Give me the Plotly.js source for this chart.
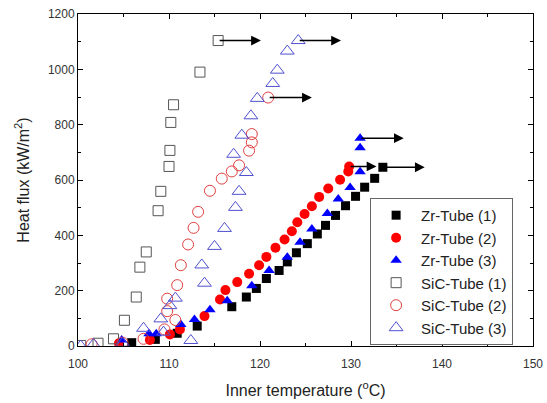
<!DOCTYPE html>
<html>
<head>
<meta charset="utf-8">
<script src="https://cdn.plot.ly/plotly-3.0.1.min.js"></script>
<style>html,body{margin:0;padding:0;background:#fff;}#chart{width:547px;height:403px;}</style>
</head>
<body>
<div id="chart"></div>
<script>
// Zr-Tube (1)
const zr1T = [105.9,108.5,110.9,113.1,116.9,118.5,119.6,120.7,122.1,123.0,124.0,125.2,126.3,127.2,128.3,129.4,130.5,131.5,132.6,133.5];
const zr1Q = [12,24,46,72,142,177,208,244,273,304,337,370,405,436,472,507,541,574,606,646];
// Zr-Tube (2)
const zr2T = [104.5,107.9,110.1,111.2,113.9,115.6,116.2,117.5,118.8,119.9,120.7,121.7,122.7,123.5,124.1,124.9,125.7,126.5,127.5,128.8,129.7,129.8];
const zr2Q = [10,22,42,60,108,168,202,231,261,292,322,355,385,415,447,477,505,539,569,601,631,649];
// Zr-Tube (3)
const zr3T = [104.8,107.8,108.6,111.3,112.8,114.5,116.4,119.1,121.0,123.0,124.4,125.7,127.4,128.6,129.9,131.0,131.0,131.0];
const zr3Q = [22,44,44,78,96,131,164,218,273,321,375,423,479,531,573,630,717,751];
// SiC-Tube (1)
const sic1T = [100.3,102.2,103.9,105.1,106.4,106.8,107.5,108.8,109.1,110.0,110.1,110.2,110.5,113.4,115.4];
const sic1Q = [2,10,26,93,177,285,340,489,559,649,707,808,872,990,1104];
// SiC-Tube (2)
const sic2T = [101.5,104.9,107.2,109.5,110.7,109.8,109.8,110.9,111.3,112.1,112.7,113.2,114.5,115.8,116.9,117.7,118.8,119.1,119.1,120.9];
const sic2Q = [6,12,26,60,94,126,171,220,292,367,427,485,561,605,631,653,706,736,766,898];
// SiC-Tube (3)
const sic3T = [100.3,101.7,104.9,107.2,109.1,109.4,110.1,110.7,112.4,113.9,113.6,115.0,116.1,117.3,117.7,118.5,117.1,118.0,119.0,119.7,121.4,121.9,123.0,124.2];
const sic3Q = [0,6,10,64,98,50,146,173,20,227,293,360,425,501,559,627,693,762,832,895,949,997,1066,1104];

const seriesNames = ['Zr-Tube (1)','Zr-Tube (2)','Zr-Tube (3)','SiC-Tube (1)','SiC-Tube (2)','SiC-Tube (3)'];
// arrow lengths (°C) drawn from the last point of each series
const arrowLen = [4.6, 3.0, 4.8, 4.7, 4.8, 4.7];

const sets = [[zr1T,zr1Q],[zr2T,zr2Q],[zr3T,zr3Q],[sic1T,sic1Q],[sic2T,sic2Q],[sic3T,sic3Q]];
const styles = [
  {symbol:'square', color:'#000000', size:9},
  {symbol:'circle', color:'#ff0000', size:10},
  {symbol:'triangle-up', color:'#0000ff', size:10},
  {symbol:'square-open', color:'#555555', size:10, line:1},
  {symbol:'circle-open', color:'#e04040', size:11, line:1},
  {symbol:'triangle-up-open', color:'#5050d0', size:12, line:1}
];

const traces = sets.map((s,i)=>{
  const st = styles[i];
  const m = {symbol: st.symbol, color: st.color, size: st.size};
  if (st.line) m.line = {width: st.line, color: st.color};
  return {x: s[0], y: s[1], type:'scatter', mode:'markers', name: seriesNames[i], marker: m};
});

const annotations = sets.map((s,i)=>{
  const n = s[0].length;
  const x0 = s[0][n-1], y0 = s[1][n-1];
  return {x: x0 + arrowLen[i], y: y0, ax: x0, ay: y0, xref:'x', yref:'y', axref:'x', ayref:'y',
    text:'', showarrow:true, arrowhead:2, arrowsize:1.4, arrowwidth:1.4, arrowcolor:'#000'};
});

const axisCommon = {
  showline:true, linecolor:'#000', linewidth:1, mirror:'ticks',
  ticks:'inside', ticklen:5, tickcolor:'#000', showgrid:false, zeroline:false,
  tickfont:{family:'Liberation Sans, Arial, sans-serif', size:12, color:'#333'}
};

const layout = {
  width:547, height:403,
  margin:{l:78, r:14, t:14, b:57},
  paper_bgcolor:'#fff', plot_bgcolor:'#fff',
  font:{family:'Liberation Sans, Arial, sans-serif', color:'#222'},
  xaxis: Object.assign({}, axisCommon, {
    range:[100,150], dtick:10, tick0:100, ticklabelstandoff:7,
    minor:{dtick:5, ticks:'inside', ticklen:3, tickcolor:'#000'},
    title:{text:'Inner temperature (<sup>o</sup>C)', font:{size:16, color:'#222'}, standoff:14}
  }),
  yaxis: Object.assign({}, axisCommon, {
    range:[0,1200], dtick:200, tick0:0,
    minor:{dtick:100, ticks:'inside', ticklen:3, tickcolor:'#000'},
    title:{text:'Heat flux (kW/m<sup>2</sup>)', font:{size:16, color:'#222'}, standoff:14}
  }),
  legend:{x:0.642, y:0.446, xanchor:'left', yanchor:'top', bgcolor:'#fff', bordercolor:'#666', borderwidth:1,
    font:{size:15, color:'#222'}, tracegroupgap:0, entrywidth:100, itemwidth:40},
  showlegend:true,
  annotations: annotations
};

Plotly.newPlot('chart', traces, layout, {displayModeBar:false, staticPlot:true});
</script>
</body>
</html>
